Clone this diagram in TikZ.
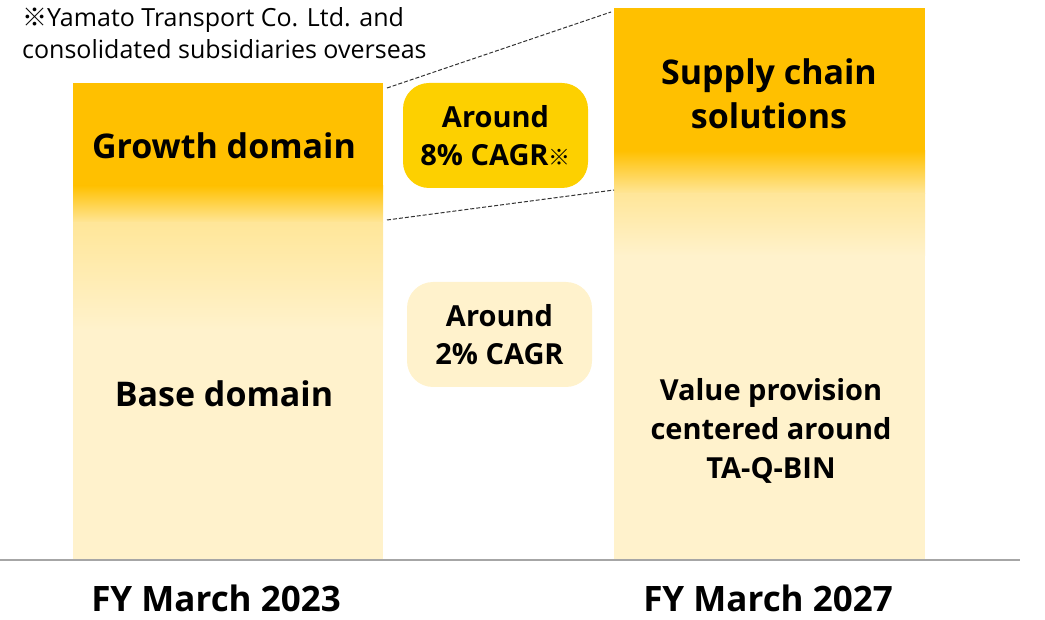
\documentclass[tikz,border=0pt]{standalone}
\usepackage{fontspec}
\setmainfont{Open Sans}
\newfontfamily\cjk{Noto Sans CJK JP}
\definecolor{orng}{HTML}{FFC000}
\definecolor{gold}{HTML}{FDD000}
\definecolor{mid}{HTML}{FFE699}
\definecolor{pale}{HTML}{FFF2CC}
\definecolor{axisgray}{HTML}{A6A6A6}
\tikzset{
  biglbl/.style={font=\bfseries\fontsize{34}{44}\selectfont, align=center, inner sep=0pt},
  fylbl/.style={font=\bfseries\fontsize{35}{44}\selectfont, align=center, inner sep=0pt},
  midlbl/.style={font=\bfseries\fontsize{29}{39}\selectfont, align=center, inner sep=0pt},
  boxlbl/.style={font=\bfseries\fontsize{29}{38}\selectfont, align=center, inner sep=0pt,
     minimum width=185pt, minimum height=105pt, rounded corners=26pt},
  notelbl/.style={font=\fontsize{25}{32}\selectfont, align=left, inner sep=0pt, anchor=north west},
  guide/.style={dashed, line width=1pt, black!80, dash pattern=on 4pt off 2pt}
}
\begin{document}
\begin{tikzpicture}[x=1pt,y=-1pt]
\useasboundingbox (0,0) rectangle (1045,620);
% left bar
\fill[orng] (73,83) rectangle (383,186);
\shade[top color=orng,bottom color=mid] (73,185.5) rectangle (383,223);
\shade[top color=mid,bottom color=pale] (73,222.5) rectangle (383,330);
\fill[pale] (73,329.5) rectangle (383,560);
% right bar
\fill[orng] (614,8) rectangle (925,151);
\shade[top color=orng,bottom color=mid] (614,150.5) rectangle (925,194);
\shade[top color=mid,bottom color=pale] (614,193.5) rectangle (925,256);
\fill[pale] (614,255.5) rectangle (925,560);
% baseline
\coordinate (axl) at (0,560);
\coordinate (axr) at (1020,560);
\draw[axisgray, line width=1.5pt] (axl) -- (axr);
% guides
\coordinate (g1a) at (387,88);
\coordinate (g1b) at (611,12);
\coordinate (g2a) at (387,220);
\coordinate (g2b) at (614,190);
\draw[guide] (g1a) -- (g1b);
\draw[guide] (g2a) -- (g2b);
% labels
\node[biglbl] (growth) at (224,146) {Growth domain};
\node[biglbl] (base) at (224,394) {Base domain};
\node[biglbl] (scs) at (769,94) {Supply chain\\solutions};
\node[midlbl] (value) at (771,431) {Value provision\\centered around\\TA-Q-BIN};
\node[boxlbl, fill=gold] (b8) at (495.5,135.5) {Around\\8\% CAGR{\mdseries\fontsize{22}{22}\selectfont\cjk ※}};
\node[boxlbl, fill=pale] (b2) at (499.5,334.5) {Around\\2\% CAGR};
\node[fylbl] (fy23) at (216,598) {FY March 2023};
\node[fylbl] (fy27) at (768,598) {FY March 2027};
\node[notelbl] (note) at (22,7) {{\cjk ※}Yamato Transport Co. Ltd. and\\consolidated subsidiaries overseas};
\end{tikzpicture}
\end{document}
